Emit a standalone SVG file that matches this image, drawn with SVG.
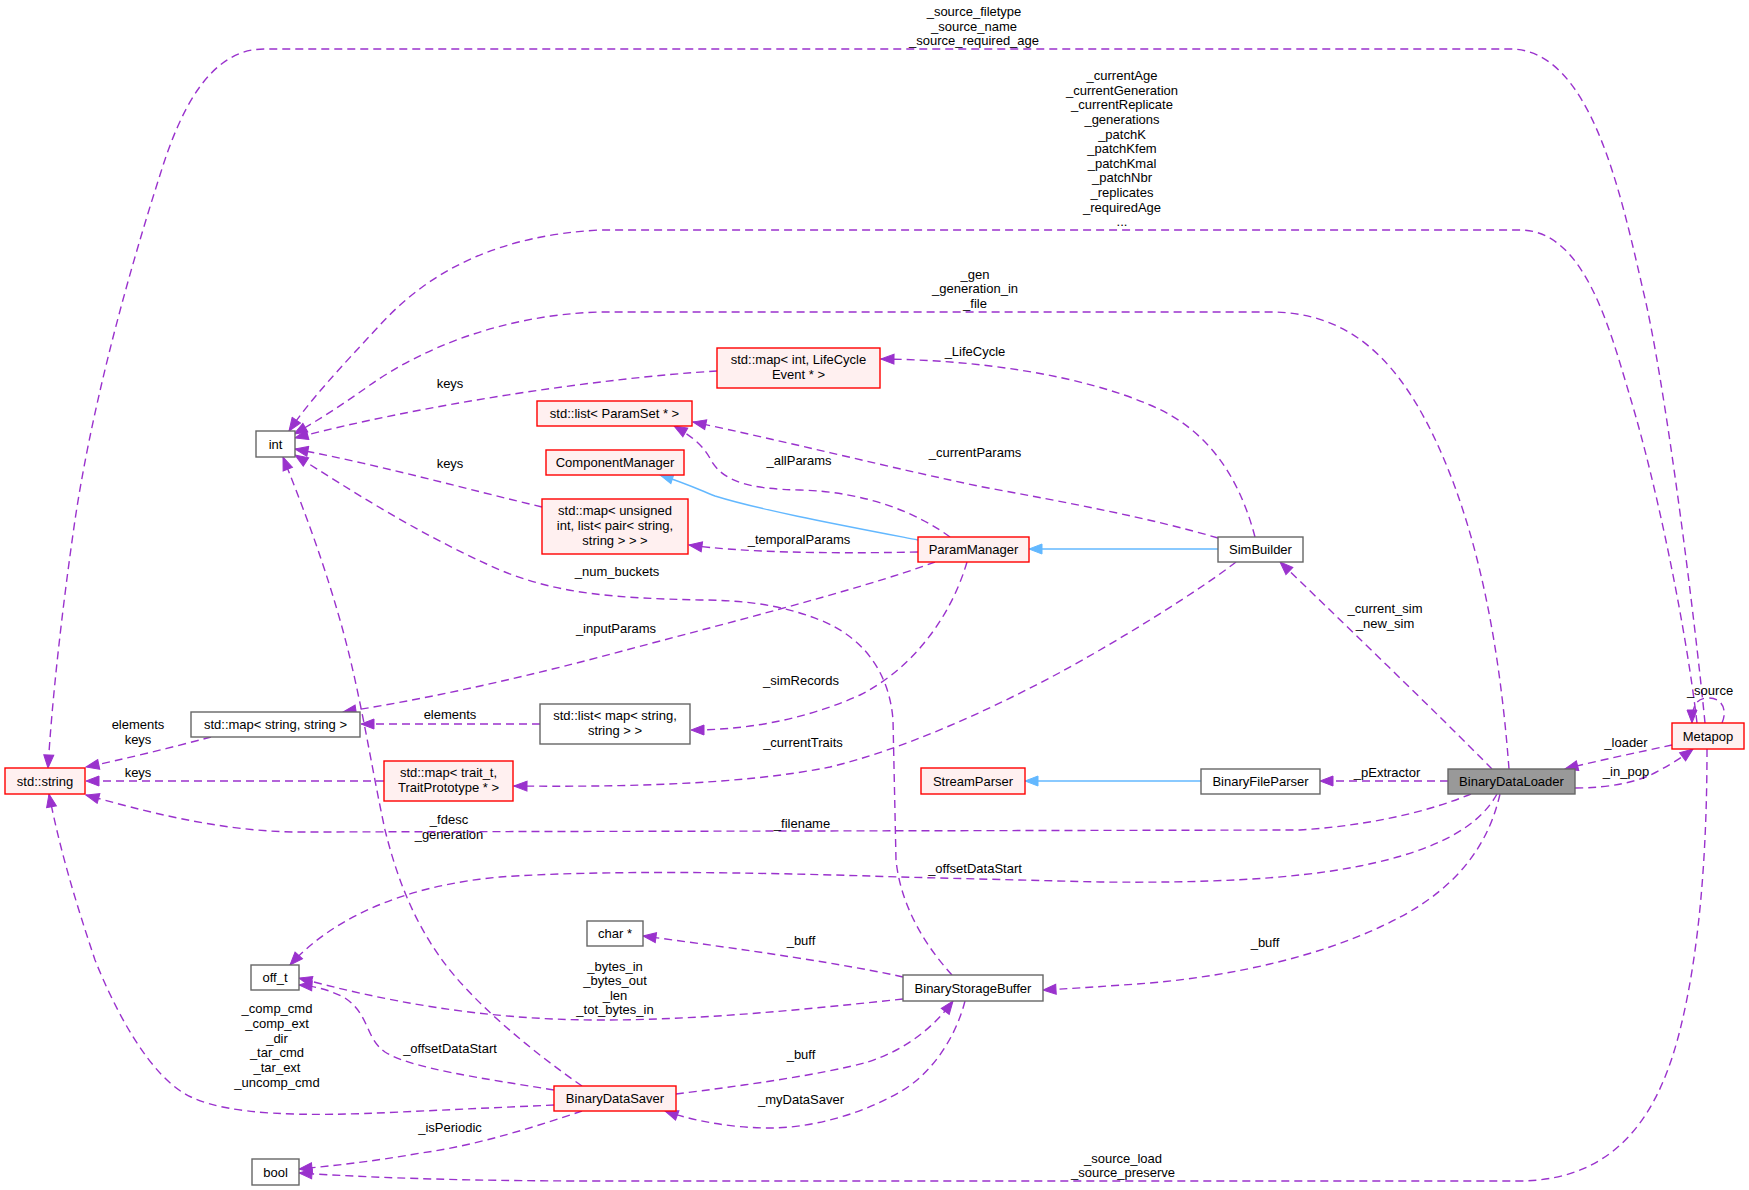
<svg xmlns="http://www.w3.org/2000/svg" width="1749" height="1190" viewBox="0 0 1749 1190">
<style>
text{font-family:"Liberation Sans",Arial,Helvetica,sans-serif;font-size:13px;fill:#000;text-anchor:middle}
.r{fill:#fff0f0;stroke:#ff0000;stroke-width:1.4}
.g{fill:#ffffff;stroke:#666666;stroke-width:1.4}
.m{fill:#999999;stroke:#666666;stroke-width:1.4}
.e{fill:none;stroke:#9a32cd;stroke-width:1.4;stroke-dasharray:8,5;marker-end:url(#ap)}
.i{fill:none;stroke:#63b8ff;stroke-width:1.4;marker-end:url(#ab)}
</style>
<defs>
<marker id="ap" markerUnits="userSpaceOnUse" markerWidth="15" markerHeight="12" refX="14" refY="6" orient="auto" viewBox="0 0 15 12"><path d="M1,1 L14,6 L1,11 z" fill="#9a32cd" stroke="#9a32cd" stroke-dasharray="none"/></marker>
<marker id="ab" markerUnits="userSpaceOnUse" markerWidth="15" markerHeight="12" refX="14" refY="6" orient="auto" viewBox="0 0 15 12"><path d="M1,1 L14,6 L1,11 z" fill="#63b8ff" stroke="#63b8ff"/></marker>
</defs>
<rect width="1749" height="1190" fill="#ffffff"/>
<g id="connectors">
<path class="e" d="M1705,723 C1695,620 1665,380 1643,290 C1620,190 1590,49 1510,49 L264,49 C210,49 180,110 160,175 C120,300 90,420 75,520 C62,610 52,700 48,768"/>
<text x="974" y="16">_source_filetype</text><text x="974" y="31">_source_name</text><text x="974" y="45">_source_required_age</text>
<path class="e" d="M1697,723 C1685,620 1655,480 1631,400 C1610,330 1585,230 1520,230 L600,230 C500,235 430,270 380,325 C340,368 310,400 289,431"/>
<text x="1122" y="80">_currentAge</text><text x="1122" y="95">_currentGeneration</text><text x="1122" y="109">_currentReplicate</text><text x="1122" y="124">_generations</text><text x="1122" y="139">_patchK</text><text x="1122" y="153">_patchKfem</text><text x="1122" y="168">_patchKmal</text><text x="1122" y="182">_patchNbr</text><text x="1122" y="197">_replicates</text><text x="1122" y="212">_requiredAge</text><text x="1122" y="226">...</text>
<path class="e" d="M1509,769 C1500,650 1480,540 1440,450 C1400,360 1350,312 1270,312 L600,312 C500,315 420,350 370,385 C335,410 310,425 294,434"/>
<text x="975" y="279">_gen</text><text x="975" y="293">_generation_in</text><text x="975" y="308">_file</text>
<path class="e" d="M717,371 C600,378 420,405 295,438"/>
<text x="450" y="388">keys</text>
<path class="e" d="M542,507 C470,490 380,465 295,449"/>
<text x="450" y="468">keys</text>
<path class="e" d="M952,975 C920,940 900,900 896,860 L893,720 C890,680 870,640 820,620 C780,604 740,600 700,600 C620,598 560,595 500,570 C420,535 350,490 295,455"/>
<text x="617" y="576">_num_buckets</text>
<path class="e" d="M582,1086 C530,1050 470,1000 440,957 C410,915 395,870 385,830 C370,760 360,690 340,620 C320,550 300,500 283,457"/>
<text x="449" y="824">_fdesc</text><text x="449" y="839">_generation</text>
<path class="e" d="M554,1105 L400,1112 C300,1117 230,1115 191,1097 C150,1078 115,1010 95,960 C75,900 60,850 49,794"/>
<text x="277" y="1013">_comp_cmd</text><text x="277" y="1028">_comp_ext</text><text x="277" y="1043">_dir</text><text x="277" y="1057">_tar_cmd</text><text x="277" y="1072">_tar_ext</text><text x="277" y="1087">_uncomp_cmd</text>
<path class="e" d="M1471,794 C1420,815 1360,826 1300,830 L300,832 C220,832 140,810 86,795"/>
<text x="802" y="828">_filename</text>
<path class="e" d="M211,737 C170,748 120,760 86,767"/>
<text x="138" y="729">elements</text><text x="138" y="744">keys</text>
<path class="e" d="M384,781 L86,781"/>
<text x="138" y="777">keys</text>
<path class="e" d="M540,724 L361,724"/>
<text x="450" y="719">elements</text>
<path class="e" d="M935,562 C860,590 700,630 600,657 C500,683 420,700 343,712"/>
<text x="616" y="633">_inputParams</text>
<path class="e" d="M967,562 C950,620 910,670 860,695 C800,722 740,730 691,730"/>
<text x="801" y="685">_simRecords</text>
<path class="e" d="M918,552 C820,554 740,552 689,545"/>
<text x="799" y="544">_temporalParams</text>
<path class="e" d="M950,537 C920,515 870,492 800,490 C750,489 725,482 712,462 C705,448 695,438 674,426"/>
<text x="799" y="465">_allParams</text>
<path class="e" d="M1218,538 C1150,518 1070,503 983,487 C900,470 780,440 693,422"/>
<text x="975" y="457">_currentParams</text>
<path class="e" d="M1255,537 C1240,480 1210,430 1150,405 C1080,375 980,360 881,359"/>
<text x="975" y="356">_LifeCycle</text>
<path class="e" d="M1236,562 C1200,590 1120,640 1059,673 C980,715 900,750 830,767 C740,785 620,787 514,786"/>
<text x="803" y="747">_currentTraits</text>
<path class="i" d="M918,540 C840,525 760,510 715,496 C700,490 685,483 660,475"/>
<path class="i" d="M1218,549 L1029,549"/>
<path class="i" d="M1201,781 L1025,781"/>
<path class="e" d="M1448,781 L1320,781"/>
<text x="1387" y="777">_pExtractor</text>
<path class="e" d="M1492,769 C1440,716 1330,610 1280,562"/>
<text x="1385" y="613">_current_sim</text><text x="1385" y="628">_new_sim</text>
<path class="e" d="M1672,745 C1640,752 1600,760 1565,769"/>
<text x="1626" y="747">_loader</text>
<path class="e" d="M1575,788 C1610,788 1640,782 1660,770 C1675,762 1685,755 1693,749"/>
<text x="1626" y="776">_in_pop</text>
<path class="e" d="M1722,723 C1727,712 1724,698 1708,698 C1697,698 1692,705 1692,723"/>
<text x="1710" y="695">_source</text>
<path class="e" d="M1707,749 C1707,850 1700,950 1680,1030 C1660,1110 1620,1180 1520,1181 L600,1181 C450,1181 360,1177 299,1173"/>
<text x="1123" y="1163">_source_load</text><text x="1123" y="1177">_source_preserve</text>
<path class="e" d="M582,1111 C540,1125 480,1145 421,1153 C370,1162 330,1166 299,1169"/>
<text x="450" y="1132">_isPeriodic</text>
<path class="e" d="M554,1090 C480,1078 410,1068 385,1052 C365,1038 370,1015 345,998 C330,990 315,986 299,985"/>
<text x="450" y="1053">_offsetDataStart</text>
<path class="e" d="M903,999 C800,1010 700,1020 600,1020 C480,1020 380,1000 299,978"/>
<text x="615" y="971">_bytes_in</text><text x="615" y="985">_bytes_out</text><text x="615" y="1000">_len</text><text x="615" y="1014">_tot_bytes_in</text>
<path class="e" d="M1497,794 C1480,825 1440,850 1360,866 C1290,880 1200,883 1100,882 L900,877 C750,872 600,870 500,877 C420,884 340,910 290,965"/>
<text x="975" y="873">_offsetDataStart</text>
<path class="e" d="M1500,794 C1485,860 1440,900 1380,927 C1320,955 1240,975 1150,983 C1110,986 1080,988 1043,990"/>
<text x="1265" y="947">_buff</text>
<path class="e" d="M903,977 C850,965 750,950 643,936"/>
<text x="801" y="945">_buff</text>
<path class="e" d="M676,1094 C740,1086 820,1075 868,1062 C910,1048 935,1025 953,1001"/>
<text x="801" y="1059">_buff</text>
<path class="e" d="M965,1001 C955,1040 930,1075 900,1092 C860,1115 810,1128 770,1128 C730,1128 690,1120 665,1111"/>
<text x="801" y="1104">_myDataSaver</text>
</g>
<g id="std-string"><rect class="r" x="5" y="768" width="80" height="26"/><text x="45" y="785.5">std::string</text></g>
<g id="int"><rect class="g" x="256" y="431" width="39" height="26"/><text x="275.5" y="448.5">int</text></g>
<g id="off_t"><rect class="g" x="251" y="965" width="48" height="25"/><text x="275" y="982">off_t</text></g>
<g id="bool"><rect class="g" x="252" y="1159" width="47" height="26"/><text x="275.5" y="1176.5">bool</text></g>
<g id="char-ptr"><rect class="g" x="587" y="921" width="56" height="25"/><text x="615" y="938">char *</text></g>
<g id="map-string-string"><rect class="g" x="191" y="712" width="169" height="25"/><text x="275.5" y="729">std::map&lt; string, string &gt;</text></g>
<g id="map-trait"><rect class="r" x="384" y="761" width="129" height="40"/><text x="448.5" y="777">std::map&lt; trait_t,</text><text x="448.5" y="791.5">TraitPrototype * &gt;</text></g>
<g id="list-map"><rect class="g" x="540" y="704" width="150" height="40"/><text x="615" y="720">std::list&lt; map&lt; string,</text><text x="615" y="735">string &gt; &gt;</text></g>
<g id="list-paramset"><rect class="r" x="537" y="401" width="155" height="25"/><text x="614.5" y="418">std::list&lt; ParamSet * &gt;</text></g>
<g id="ComponentManager"><rect class="r" x="546" y="450" width="138" height="25"/><text x="615" y="467">ComponentManager</text></g>
<g id="map-unsigned"><rect class="r" x="542" y="499" width="146" height="55"/><text x="615" y="515">std::map&lt; unsigned</text><text x="615" y="530">int, list&lt; pair&lt; string,</text><text x="615" y="544.5">string &gt; &gt; &gt;</text></g>
<g id="map-lifecycle"><rect class="r" x="717" y="348" width="163" height="40"/><text x="798.5" y="364">std::map&lt; int, LifeCycle</text><text x="798.5" y="378.5">Event * &gt;</text></g>
<g id="ParamManager"><rect class="r" x="918" y="537" width="111" height="25"/><text x="973.5" y="554">ParamManager</text></g>
<g id="StreamParser"><rect class="r" x="921" y="768" width="104" height="26"/><text x="973" y="785.5">StreamParser</text></g>
<g id="BinaryStorageBuffer"><rect class="g" x="903" y="975" width="140" height="26"/><text x="973" y="992.5">BinaryStorageBuffer</text></g>
<g id="BinaryDataSaver"><rect class="r" x="554" y="1086" width="122" height="25"/><text x="615" y="1103">BinaryDataSaver</text></g>
<g id="SimBuilder"><rect class="g" x="1218" y="537" width="85" height="25"/><text x="1260.5" y="554">SimBuilder</text></g>
<g id="BinaryFileParser"><rect class="g" x="1201" y="769" width="119" height="25"/><text x="1260.5" y="786">BinaryFileParser</text></g>
<g id="BinaryDataLoader"><rect class="m" x="1448" y="769" width="127" height="25"/><text x="1511.5" y="786">BinaryDataLoader</text></g>
<g id="Metapop"><rect class="r" x="1672" y="723" width="72" height="26"/><text x="1708" y="740.5">Metapop</text></g>
</svg>
